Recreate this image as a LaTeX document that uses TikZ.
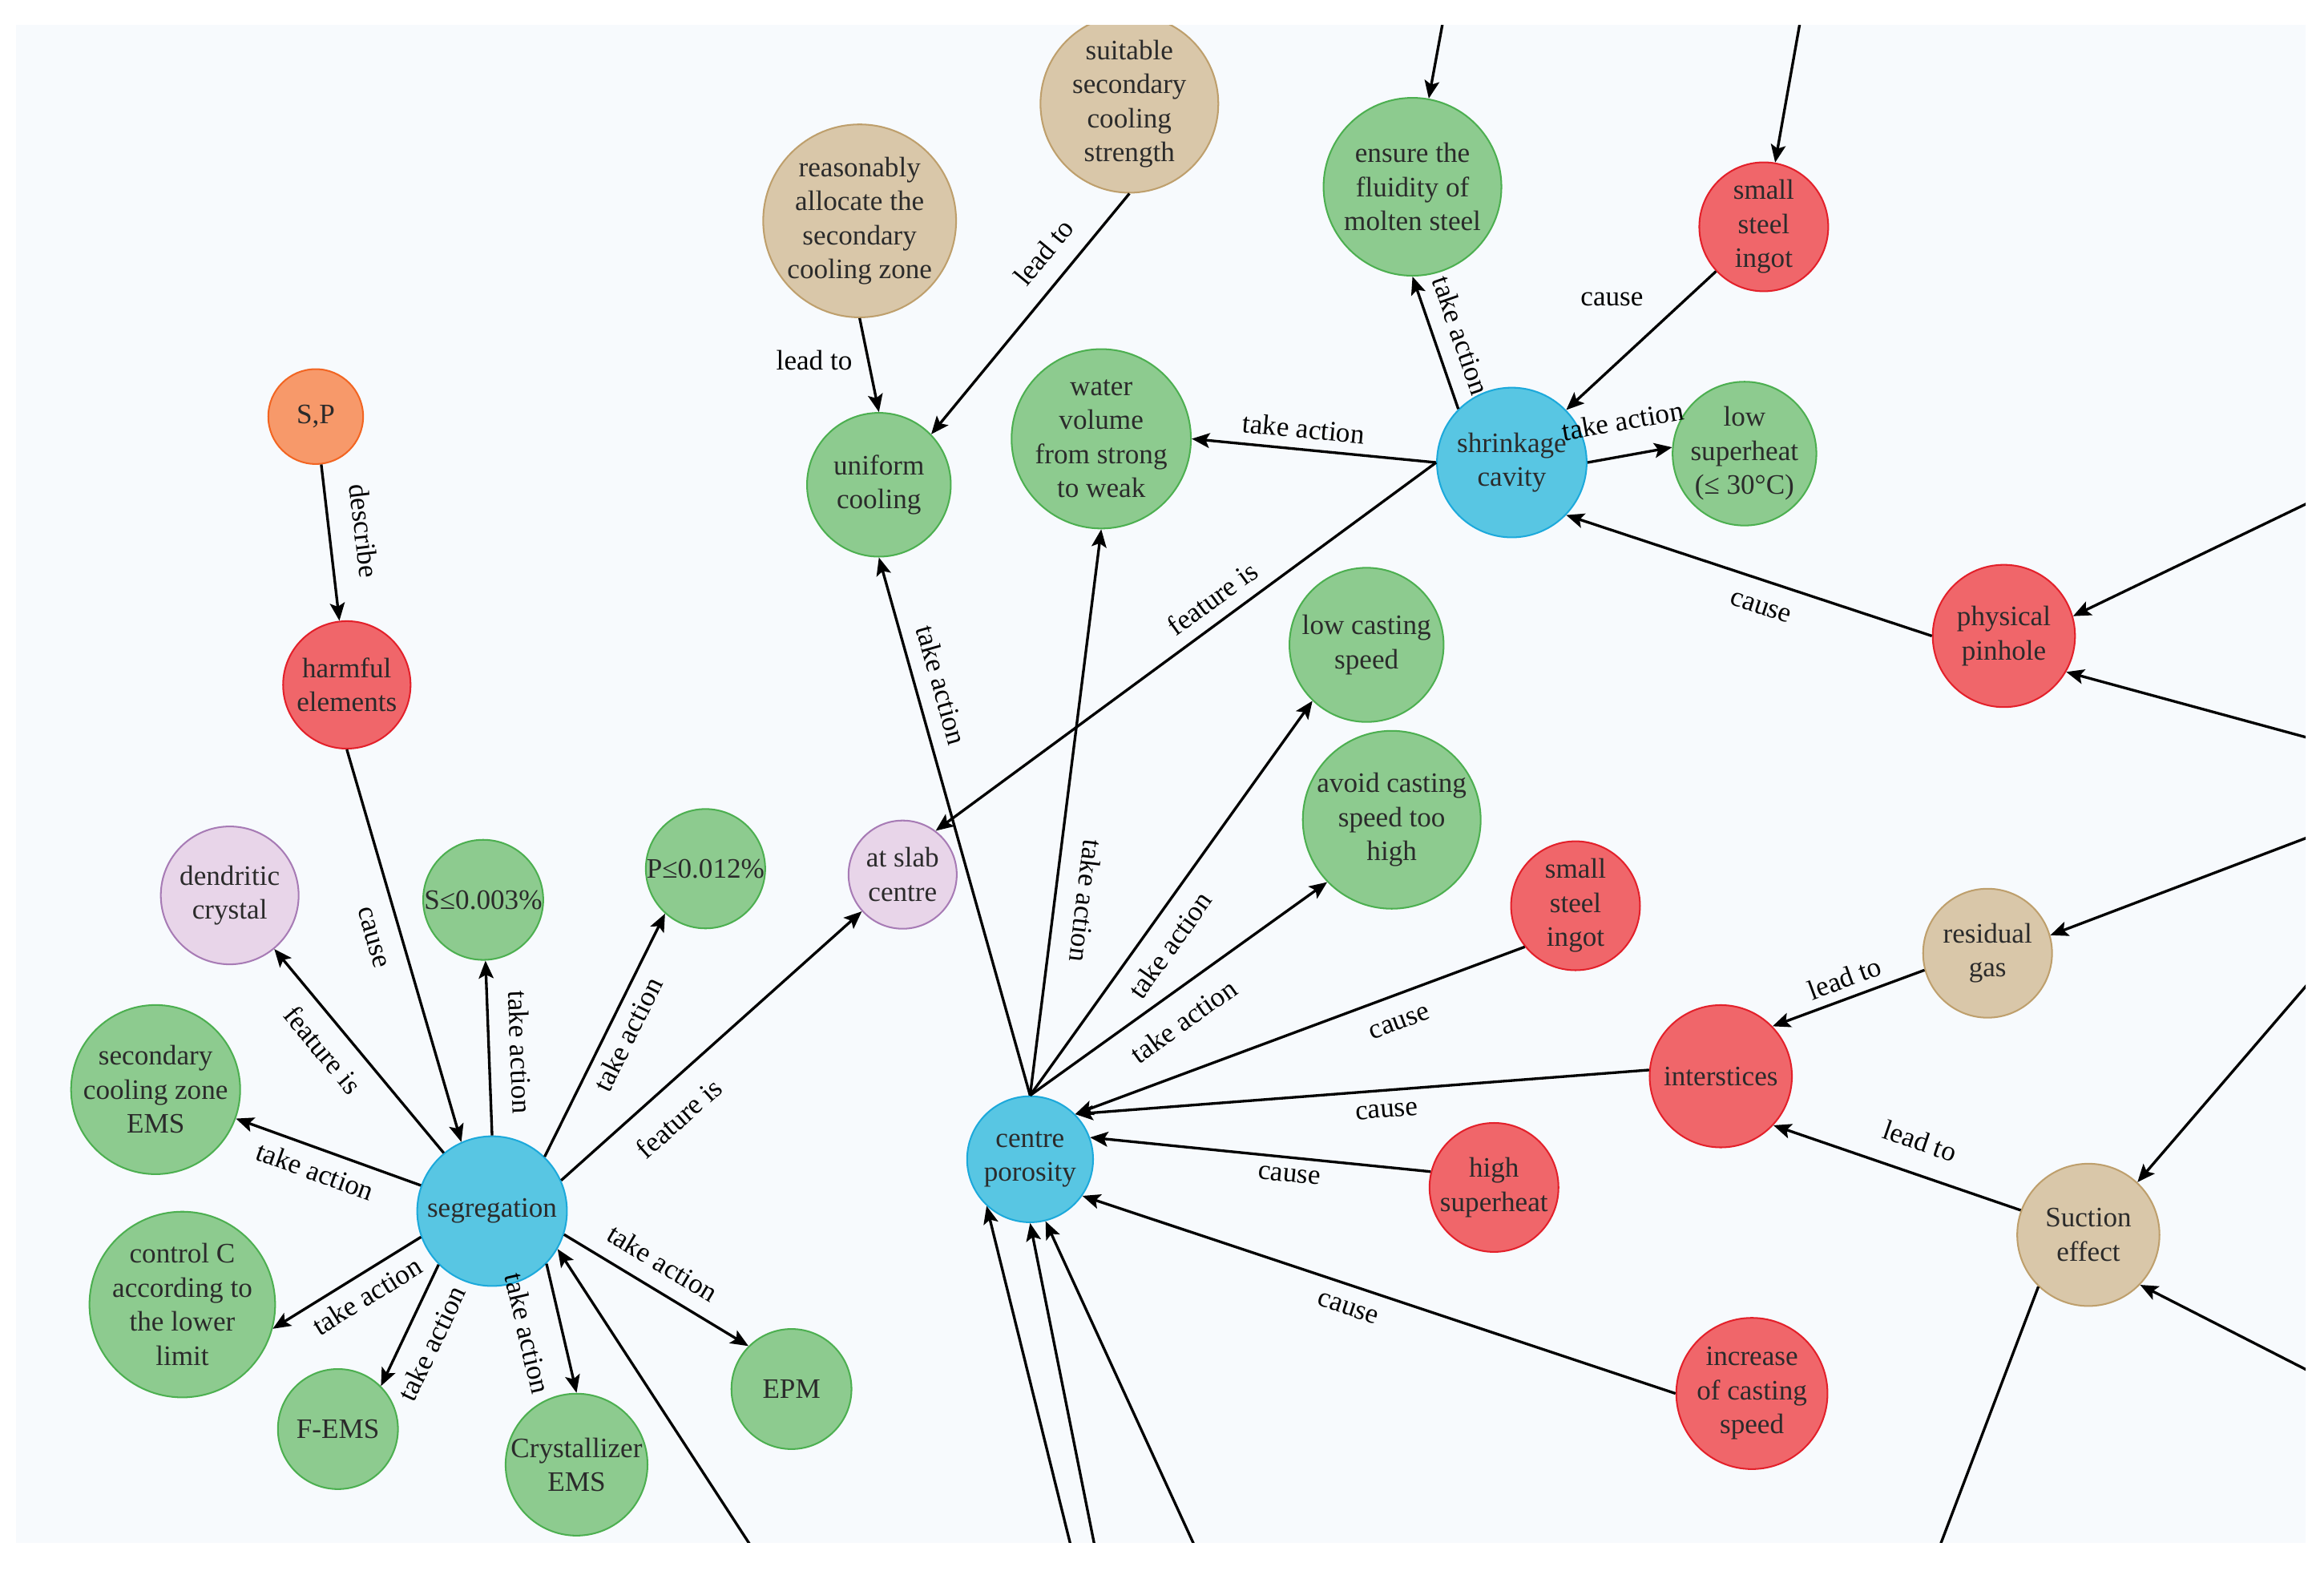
\documentclass[tikz,border=0pt]{standalone}
\usepackage{fontspec}
\setmainfont{Liberation Serif}
\usetikzlibrary{arrows.meta}
\definecolor{panel}{HTML}{F7FAFD}
\definecolor{txt}{HTML}{2B2B2B}
\definecolor{bluef}{HTML}{58C6E3}\definecolor{blued}{HTML}{1CA9DB}
\definecolor{greenf}{HTML}{8DCB8F}\definecolor{greend}{HTML}{4CAF50}
\definecolor{redf}{HTML}{F0666A}\definecolor{redd}{HTML}{E3202A}
\definecolor{tanf}{HTML}{D9C7A9}\definecolor{tand}{HTML}{BE9F6C}
\definecolor{pinkf}{HTML}{E8D5E9}\definecolor{pinkd}{HTML}{A77BB5}
\definecolor{orangef}{HTML}{F7996A}\definecolor{oranged}{HTML}{F26522}
\begin{document}
\begin{tikzpicture}[x=1pt,y=-1pt,
  every node/.style={font=\fontsize{19}{23}\selectfont},
  ent/.style={circle,draw,line width=1.1pt,inner sep=0pt,align=center,text=txt},
  problem/.style={ent,fill=bluef,draw=blued},
  remedy/.style={ent,fill=greenf,draw=greend},
  reason/.style={ent,fill=redf,draw=redd},
  factor/.style={ent,fill=tanf,draw=tand},
  trait/.style={ent,fill=pinkf,draw=pinkd},
  element/.style={ent,fill=orangef,draw=oranged},
  rel/.style={line width=1.8pt,-{Stealth[length=12pt,width=10pt,inset=2.5pt]}},
  lbl/.style={inner sep=2pt,text=black}]
\useasboundingbox[fill=white] (0,0) rectangle (1568,1062.4);
\fill[panel] (10.8,16.8) rectangle (1555.6,1040.8);
\begin{scope}
\clip (10.8,16.8) rectangle (1555.6,1040.8);
% nodes
\node[element,minimum size=64pt] (SP) at (213,281) {S,P};
\node[reason,minimum size=86pt] (harmful) at (234,462) {harmful\\elements};
\node[factor,minimum size=129pt] (allocate) at (580,149) {reasonably\\allocate the\\secondary\\cooling zone};
\node[factor,minimum size=120pt] (suitable) at (762,70) {suitable\\secondary\\cooling\\strength};
\node[remedy,minimum size=97pt] (uniform) at (593,327) {uniform\\cooling};
\node[remedy,minimum size=121pt] (water) at (743,296) {water\\volume\\from strong\\to weak};
\node[remedy,minimum size=120pt] (fluidity) at (953,126) {ensure the\\fluidity of\\molten steel};
\node[reason,minimum size=87pt] (ingotA) at (1190,153) {small\\steel\\ingot};
\node[problem,minimum size=101pt] (shrink) at (1020,312) {shrinkage\\cavity};
\node[remedy,minimum size=97pt] (lowheat) at (1177,306) {low\\superheat\\(≤ 30°C)};
\node[reason,minimum size=96pt] (pinhole) at (1352,429) {physical\\pinhole};
\node[remedy,minimum size=104pt] (lowspeed) at (922,435) {low casting\\speed};
\node[remedy,minimum size=120pt] (avoid) at (939,553) {avoid casting\\speed too\\high};
\node[trait,minimum size=73pt] (slab) at (609,590) {at slab\\centre};
\node[remedy,minimum size=80pt] (Plim) at (476,586) {P≤0.012\%};
\node[remedy,minimum size=81pt] (Slim) at (326,607) {S≤0.003\%};
\node[trait,minimum size=93pt] (dendrite) at (155,604) {dendritic\\crystal};
\node[remedy,minimum size=103pt] (zoneEMS) at (105,735) {secondary\\cooling zone\\EMS};
\node[problem,minimum size=101pt] (seg) at (332,817) {segregation};
\node[remedy,minimum size=104pt] (controlC) at (123,880) {control C\\according to\\the lower\\limit};
\node[remedy,minimum size=81pt] (FEMS) at (228,964) {F-EMS};
\node[remedy,minimum size=91pt] (crystEMS) at (389,988) {Crystallizer\\EMS};
\node[remedy,minimum size=81pt] (EPM) at (534,937) {EPM};
\node[problem,minimum size=85pt] (porosity) at (695,782) {centre\\porosity};
\node[reason,minimum size=87pt] (ingotB) at (1063,611) {small\\steel\\ingot};
\node[factor,minimum size=87pt] (gas) at (1341,643) {residual\\gas};
\node[reason,minimum size=96pt] (interstice) at (1161,726) {interstices};
\node[reason,minimum size=87pt] (highheat) at (1008,801) {high\\superheat};
\node[factor,minimum size=96pt] (suction) at (1409,833) {Suction\\effect};
\node[reason,minimum size=102pt] (speedup) at (1182,940) {increase\\of casting\\speed};
% free ends at the panel edge
\coordinate (inSeg) at (508,1045);
\coordinate (inPor1) at (723,1045);
\coordinate (inPor2) at (739,1045);
\coordinate (inPor3) at (807,1045);
\coordinate (inFlu) at (974,12);
\coordinate (inIngot) at (1215,12);
\coordinate (inPin1) at (1562,337);
\coordinate (inPin2) at (1562,499);
\coordinate (inGas) at (1562,563);
\coordinate (inSuc1) at (1562,658);
\coordinate (inSuc2) at (1562,927);
\coordinate (outSuc) at (1308,1045);
% segregation
\draw[rel] (SP) -- node[lbl,sloped,above=14pt,pos=.45]{describe} (harmful);
\draw[rel] (harmful.south) -- node[lbl,sloped,below=11.5pt,pos=.46]{cause} (seg.114);
\draw[rel] (seg) -- node[lbl,sloped,below=8.5pt,pos=.59]{feature is} (dendrite);
\draw[rel] (seg.north) -- node[lbl,sloped,above=11.5pt,pos=.47]{take action} (Slim);
\draw[rel] (seg.46) -- node[lbl,sloped,below=4pt,pos=.54]{take action} (Plim.228);
\draw[rel] (seg.24) -- node[lbl,sloped,below=12pt,pos=.32]{feature is} (slab.222);
\draw[rel] (seg) -- node[lbl,sloped,below=5.5pt,pos=.53]{take action} (zoneEMS);
\draw[rel] (seg.200) -- node[lbl,sloped,below=5pt,pos=.44]{take action} (controlC.-15);
\draw[rel] (seg.225) -- node[lbl,sloped,below=9pt,pos=.55]{take action} (FEMS.45);
\draw[rel] (seg.-44) -- node[lbl,sloped,below=13.5pt,pos=.48]{take action} (crystEMS.north);
\draw[rel] (seg.-18) -- node[lbl,sloped,above=8.5pt,pos=.46]{take action} (EPM.135);
\draw[rel] (inSeg) -- (seg.-30);
% centre porosity
\draw[rel] (porosity.north) -- node[lbl,sloped,above=8pt,pos=.75]{take action} (uniform.south);
\draw[rel] (porosity.north) -- node[lbl,rotate=-97,above=11.5pt,pos=.35]{take action} (water.south);
\draw[rel] (porosity.north) -- node[lbl,sloped,below=8pt,pos=.42]{take action} (lowspeed.226);
\draw[rel] (porosity.north) -- node[lbl,sloped,below=10pt,pos=.46]{take action} (avoid.224);
\draw[rel] (ingotB.219) -- node[lbl,sloped,below=11pt,pos=.3]{cause} (porosity.45);
\draw[rel] (interstice.175) -- node[lbl,sloped,below=6.5pt,pos=.46]{cause} (porosity.45);
\draw[rel] (highheat.166) -- node[lbl,sloped,below=4.5pt,pos=.41]{cause} (porosity.20);
\draw[rel] (speedup.west) -- node[lbl,sloped,below=8pt,pos=.54]{cause} (porosity.-35);
\draw[rel] (inPor1) -- (porosity.227);
\draw[rel] (inPor2) -- (porosity.south);
\draw[rel] (inPor3) -- (porosity.-76);
\draw[rel] (allocate.south) -- node[lbl,left=8pt,pos=.45]{lead to} (uniform.north);
\draw[rel] (suitable.south) -- node[lbl,sloped,above=10pt,pos=.32]{lead to} (uniform.44);
% shrinkage cavity
\draw[rel] (shrink.west) -- node[lbl,sloped,above=6pt,pos=.42]{feature is} (slab.53);
\draw[rel] (shrink.west) -- node[lbl,sloped,above=4.5pt,pos=.55]{take action} (water.east);
\draw[rel] (shrink.135) -- node[lbl,sloped,above=8.5pt,pos=.49]{take action} (fluidity.south);
\draw[rel] (shrink.east) -- node[lbl,sloped,above=14pt,pos=.49]{take action} (lowheat.175);
\draw[rel] (ingotA.223) -- node[lbl,left=26pt,pos=.2]{cause} (shrink.44);
\draw[rel] (pinhole.west) -- node[lbl,sloped,below=10.5pt,pos=.445]{cause} (shrink.-44);
\draw[rel] (inFlu) -- (fluidity);
\draw[rel] (inIngot) -- (ingotA);
\draw[rel] (inPin1) -- (pinhole.16);
\draw[rel] (inPin2) -- (pinhole.-30);
% interstices
\draw[rel] (gas.195) -- node[lbl,sloped,above=4pt,pos=.48]{lead to} (interstice.44);
\draw[rel] (suction.160) -- node[lbl,sloped,above=12.5pt,pos=.45]{lead to} (interstice.-43);
\draw[rel] (inGas) -- (gas.16);
\draw[rel] (inSuc1) -- (suction.47);
\draw[rel] (inSuc2) -- (suction.-44);
\draw[line width=1.8pt] (suction.226) -- (outSuc);
\end{scope}
\end{tikzpicture}
\end{document}
